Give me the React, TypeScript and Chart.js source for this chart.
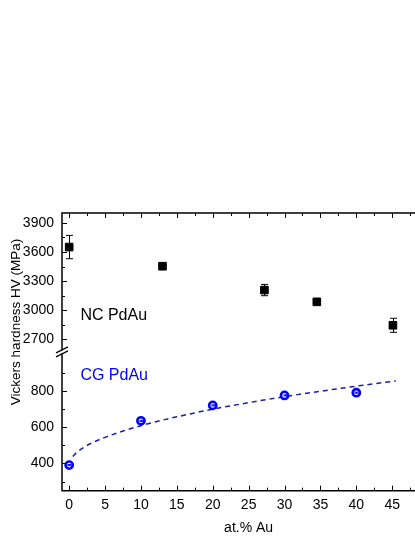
import React, { useEffect, useRef } from 'react';
import { Chart, registerables } from 'chart.js';

Chart.register(...registerables);

// NC PdAu (black squares, with error bars)
const ncX = [0, 13, 27.2, 34.5, 45.1];
const ncY = [3650, 3453, 3208, 3087, 2846];
const ncErr = [120, 25, 58, 25, 72];

// CG PdAu (blue open circles, tiny error bars)
const cgX = [0, 10, 20, 30, 40];
const cgY = [391, 635, 720, 775, 790];
const cgErr = [3, 3, 3, 3, 3];

// Dashed fit curve through CG data
const fitX = [0.5, 1, 2, 3, 4, 5, 7.5, 10, 12.5, 15, 20, 25, 30, 35, 40, 45.5];
const fitY = [438, 459, 488, 510, 528, 544, 579, 608, 634, 657, 699, 735, 768, 798, 826, 855];

// Axis ticks
const xMajor = [0, 5, 10, 15, 20, 25, 30, 35, 40, 45, 50];
const xMinor = [2.5, 7.5, 12.5, 17.5, 22.5, 27.5, 32.5, 37.5, 42.5, 47.5];
const yTopMajor = [2700, 3000, 3300, 3600, 3900];
const yTopMinor = [2850, 3150, 3450, 3750];
const yBotMajor = [400, 600, 800];
const yBotMinor = [300, 500, 700, 900];

const FONT = "Arial, 'Liberation Sans', sans-serif";

const axesPlugin = {
  id: 'customAxes',
  afterDatasetsDraw(chart: any) {
    const ctx = chart.ctx;
    const { left, right, top, bottom } = chart.chartArea;
    const xs = chart.scales.x;
    const yt = chart.scales.yTop;
    const yb = chart.scales.yBot;
    ctx.save();

    // error bars
    const errBars = (xv: number[], yv: number[], ev: number[], scale: any, color: string, cap: number) => {
      ctx.strokeStyle = color;
      ctx.lineWidth = 1;
      for (let i = 0; i < xv.length; i++) {
        const px = Math.round(xs.getPixelForValue(xv[i])) + 0.5;
        const y1 = scale.getPixelForValue(yv[i] + ev[i]);
        const y2 = scale.getPixelForValue(yv[i] - ev[i]);
        ctx.beginPath();
        ctx.moveTo(px, y1);
        ctx.lineTo(px, y2);
        ctx.moveTo(px - cap, y1);
        ctx.lineTo(px + cap, y1);
        ctx.moveTo(px - cap, y2);
        ctx.lineTo(px + cap, y2);
        ctx.stroke();
      }
    };
    errBars(ncX, ncY, ncErr, yt, '#000', 3.5);
    errBars(cgX, cgY, cgErr, yb, '#0000ff', 2);

    // axis lines
    ctx.strokeStyle = '#000';
    ctx.lineWidth = 1.5;
    ctx.beginPath();
    ctx.moveTo(left, top);
    ctx.lineTo(left, bottom);
    ctx.moveTo(left - 0.75, bottom);
    ctx.lineTo(right, bottom);
    ctx.moveTo(left - 0.75, top);
    ctx.lineTo(right, top);
    ctx.stroke();

    // x ticks (bottom up, top down)
    ctx.lineWidth = 1;
    const drawX = (vals: number[], len: number) => {
      for (const v of vals) {
        const px = Math.round(xs.getPixelForValue(v)) + 0.5;
        ctx.beginPath();
        ctx.moveTo(px, bottom);
        ctx.lineTo(px, bottom - len);
        ctx.moveTo(px, top);
        ctx.lineTo(px, top + len);
        ctx.stroke();
      }
    };
    drawX(xMajor, 5);
    drawX(xMinor, 3);

    const drawY = (scale: any, vals: number[], len: number) => {
      for (const v of vals) {
        const py = Math.round(scale.getPixelForValue(v)) + 0.5;
        ctx.beginPath();
        ctx.moveTo(left, py);
        ctx.lineTo(left + len, py);
        ctx.stroke();
      }
    };
    drawY(yt, yTopMajor, 5);
    drawY(yt, yTopMinor, 3);
    drawY(yb, yBotMajor, 5);
    drawY(yb, yBotMinor, 3);

    // axis break
    const by = yt.bottom;
    ctx.fillStyle = '#fff';
    ctx.fillRect(left - 2, by - 1.5, 4, 3);
    ctx.strokeStyle = '#000';
    ctx.lineWidth = 1.2;
    ctx.beginPath();
    ctx.moveTo(left - 6, by + 1);
    ctx.lineTo(left + 6, by - 5);
    ctx.moveTo(left - 6, by + 5);
    ctx.lineTo(left + 6, by - 1);
    ctx.stroke();

    // annotations
    ctx.font = `16px ${FONT}`;
    ctx.textAlign = 'left';
    ctx.textBaseline = 'middle';
    ctx.fillStyle = '#000';
    ctx.fillText('NC PdAu', xs.getPixelForValue(1.56), yt.getPixelForValue(2949));
    ctx.fillStyle = '#0000ff';
    ctx.fillText('CG PdAu', xs.getPixelForValue(1.56), yb.getPixelForValue(886));

    // y title
    ctx.fillStyle = '#000';
    ctx.font = `13.5px ${FONT}`;
    ctx.translate(16.5, 322);
    ctx.rotate(-Math.PI / 2);
    ctx.textAlign = 'center';
    ctx.textBaseline = 'middle';
    ctx.fillText('Vickers hardness HV (MPa)', 0, 0);
    ctx.restore();
  },
};

export default function App() {
  const ref = useRef<HTMLCanvasElement>(null);
  useEffect(() => {
    if (!ref.current) return;
    const tickFont = { family: FONT, size: 14 };
    const yCommon = (min: number, max: number, major: number[]) => ({
      type: 'linear' as const,
      position: 'left' as const,
      stack: 'hv',
      stackWeight: 1,
      min,
      max,
      grid: { display: false, drawTicks: false },
      border: { display: false },
      ticks: { font: tickFont, color: '#000', padding: 8, callback: (v: any) => String(v) },
      afterBuildTicks: (s: any) => {
        s.ticks = major.map((v) => ({ value: v }));
      },
      afterFit: (s: any) => {
        s.width = 62;
      },
    });
    const chart = new Chart(ref.current, {
      type: 'scatter',
      data: {
        datasets: [
          {
            label: 'NC PdAu',
            data: ncX.map((x, i) => ({ x, y: ncY[i] })),
            yAxisID: 'yTop',
            pointStyle: 'rect',
            pointRadius: 5.4,
            pointBackgroundColor: '#000',
            pointBorderColor: '#000',
            pointBorderWidth: 1,
            showLine: false,
            clip: false as any,
            order: 1,
          },
          {
            label: 'CG PdAu',
            data: cgX.map((x, i) => ({ x, y: cgY[i] })),
            yAxisID: 'yBot',
            pointStyle: 'circle',
            pointRadius: 3.6,
            pointBackgroundColor: '#fff',
            pointBorderColor: '#0000ff',
            pointBorderWidth: 2.6,
            showLine: false,
            clip: false as any,
            order: 1,
          },
          {
            label: 'fit',
            data: fitX.map((x, i) => ({ x, y: fitY[i] })),
            yAxisID: 'yBot',
            showLine: true,
            borderColor: '#1e1ea6',
            borderWidth: 1.5,
            borderDash: [5, 4],
            pointRadius: 0,
            cubicInterpolationMode: 'monotone',
            order: 3,
          },
        ],
      },
      options: {
        animation: false,
        responsive: false,
        maintainAspectRatio: false,
        devicePixelRatio: 1,
        layout: { padding: { top: 213, left: 0, right: 0, bottom: 0 } },
        plugins: { legend: { display: false }, tooltip: { enabled: false }, title: { display: false } },
        scales: {
          x: {
            type: 'linear',
            position: 'bottom',
            min: -1,
            max: 51,
            grid: { display: false, drawTicks: false },
            border: { display: false },
            ticks: { font: tickFont, color: '#000', padding: 6, autoSkip: false, maxRotation: 0, callback: (v: any) => String(v) },
            afterBuildTicks: (s: any) => {
              s.ticks = xMajor.map((v) => ({ value: v }));
            },
            afterFit: (s: any) => {
              s.height = 46.3;
            },
            title: {
              display: true,
              text: 'at.% Au',
              color: '#000',
              font: { family: FONT, size: 14 },
              padding: { top: 4, bottom: 0 },
            },
          },
          yBot: yCommon(250, 1015, yBotMajor),
          yTop: yCommon(2573, 4000, yTopMajor),
        } as any,
      },
      plugins: [axesPlugin],
    });
    return () => chart.destroy();
  }, []);
  return (
    <div
      style={{
        position: 'absolute',
        left: 0,
        top: 0,
        width: 415,
        height: 537,
        overflow: 'hidden',
        background: '#fff',
      }}
    >
      <canvas ref={ref} width={442} height={537} style={{ display: 'block' }} />
    </div>
  );
}
